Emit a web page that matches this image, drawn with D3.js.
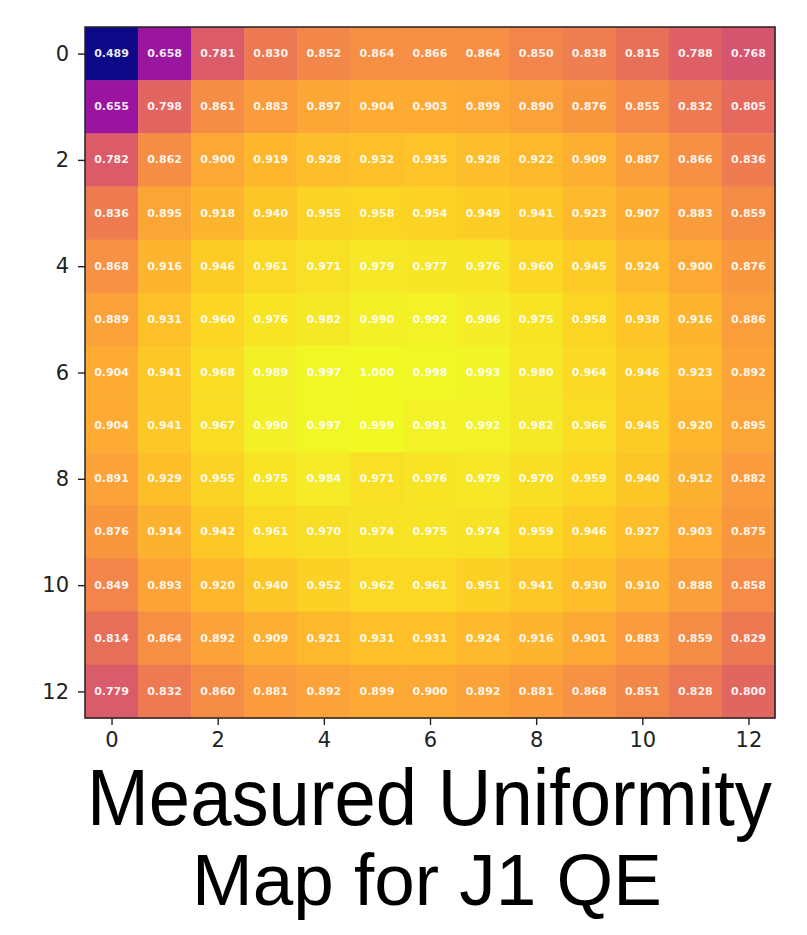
<!DOCTYPE html>
<html>
<head>
<meta charset="utf-8">
<script src="https://cdn.jsdelivr.net/npm/d3@7"></script>
<style>
  html, body { margin: 0; padding: 0; background: #fff; }
  svg { display: block; }
</style>
</head>
<body>
<svg id="chart" width="807" height="935"></svg>
<script>
// Normalised QE uniformity, 13 x 13 grid (rows top to bottom)
const rows = d3.range(13);
const cols = d3.range(13);
const tickValues = [0, 2, 4, 6, 8, 10, 12];
const titleLines = ["Measured Uniformity", "Map for J1 QE"];

const row0  = [0.489, 0.658, 0.781, 0.830, 0.852, 0.864, 0.866, 0.864, 0.850, 0.838, 0.815, 0.788, 0.768];
const row1  = [0.655, 0.798, 0.861, 0.883, 0.897, 0.904, 0.903, 0.899, 0.890, 0.876, 0.855, 0.832, 0.805];
const row2  = [0.782, 0.862, 0.900, 0.919, 0.928, 0.932, 0.935, 0.928, 0.922, 0.909, 0.887, 0.866, 0.836];
const row3  = [0.836, 0.895, 0.918, 0.940, 0.955, 0.958, 0.954, 0.949, 0.941, 0.923, 0.907, 0.883, 0.859];
const row4  = [0.868, 0.916, 0.946, 0.961, 0.971, 0.979, 0.977, 0.976, 0.960, 0.945, 0.924, 0.900, 0.876];
const row5  = [0.889, 0.931, 0.960, 0.976, 0.982, 0.990, 0.992, 0.986, 0.975, 0.958, 0.938, 0.916, 0.886];
const row6  = [0.904, 0.941, 0.968, 0.989, 0.997, 1.000, 0.998, 0.993, 0.980, 0.964, 0.946, 0.923, 0.892];
const row7  = [0.904, 0.941, 0.967, 0.990, 0.997, 0.999, 0.991, 0.992, 0.982, 0.966, 0.945, 0.920, 0.895];
const row8  = [0.891, 0.929, 0.955, 0.975, 0.984, 0.971, 0.976, 0.979, 0.970, 0.959, 0.940, 0.912, 0.882];
const row9  = [0.876, 0.914, 0.942, 0.961, 0.970, 0.974, 0.975, 0.974, 0.959, 0.946, 0.927, 0.903, 0.875];
const row10 = [0.849, 0.893, 0.920, 0.940, 0.952, 0.962, 0.961, 0.951, 0.941, 0.930, 0.910, 0.888, 0.858];
const row11 = [0.814, 0.864, 0.892, 0.909, 0.921, 0.931, 0.931, 0.924, 0.916, 0.901, 0.883, 0.859, 0.829];
const row12 = [0.779, 0.832, 0.860, 0.881, 0.892, 0.899, 0.900, 0.892, 0.881, 0.868, 0.851, 0.828, 0.800];

const grid = [row0, row1, row2, row3, row4, row5, row6, row7, row8, row9, row10, row11, row12];

const cells = [];
grid.forEach((r, i) => r.forEach((v, j) => cells.push({ row: i, col: j, value: v })));

// Layout
const plot = { left: 85, top: 27, width: 690, height: 691 };

const svg = d3.select("#chart");

const x = d3.scaleBand().domain(cols).range([plot.left, plot.left + plot.width]);
const y = d3.scaleBand().domain(rows).range([plot.top, plot.top + plot.height]);

const allValues = grid.flat();
const color = d3.scaleSequential(d3.interpolatePlasma)
  .domain([d3.min(allValues), d3.max(allValues)]);

// Heatmap cells
svg.append("g")
  .selectAll("rect")
  .data(cells)
  .join("rect")
  .attr("x", d => x(d.col))
  .attr("y", d => y(d.row))
  .attr("width", x.bandwidth() + 0.5)
  .attr("height", y.bandwidth() + 0.5)
  .attr("fill", d => color(d.value));

// Cell annotations
svg.append("g")
  .selectAll("text")
  .data(cells)
  .join("text")
  .attr("x", d => x(d.col) + x.bandwidth() / 2)
  .attr("y", d => y(d.row) + y.bandwidth() / 2)
  .attr("text-anchor", "middle")
  .attr("dominant-baseline", "central")
  .attr("font-family", "'DejaVu Sans', sans-serif")
  .attr("font-weight", "bold")
  .attr("font-size", 11)
  .attr("fill", "#fff")
  .attr("fill-opacity", 0.92)
  .text(d => d.value.toFixed(3));

// Axes: integer ticks at cell centres
const xTick = v => x(v) + x.bandwidth() / 2;
const yTick = v => y(v) + y.bandwidth() / 2;

const xAxis = d3.axisBottom(d3.scaleLinear().domain([0, 12]).range([xTick(0), xTick(12)]))
  .tickValues(tickValues).tickSize(7).tickPadding(7).tickFormat(d3.format("d"));
const yAxis = d3.axisLeft(d3.scaleLinear().domain([0, 12]).range([yTick(0), yTick(12)]))
  .tickValues(tickValues).tickSize(7).tickPadding(9).tickFormat(d3.format("d"));

const gx = svg.append("g")
  .attr("transform", `translate(0,${plot.top + plot.height})`)
  .call(xAxis);
const gy = svg.append("g")
  .attr("transform", `translate(${plot.left},0)`)
  .call(yAxis);

[gx, gy].forEach(g => {
  g.select(".domain").remove();
  g.selectAll(".tick line").attr("stroke", "#222").attr("stroke-width", 1.4);
  g.selectAll(".tick text")
    .attr("font-family", "'DejaVu Sans', sans-serif")
    .attr("font-size", 21)
    .attr("fill", "#222");
});

// Frame around the map
svg.append("rect")
  .attr("x", plot.left)
  .attr("y", plot.top)
  .attr("width", plot.width)
  .attr("height", plot.height)
  .attr("fill", "none")
  .attr("stroke", "#222")
  .attr("stroke-width", 1.5);

// Title below the map: first line is set tall and narrowed to its box
const titleSpec = [
  { size: 80, baseline: 825, left: 87, width: 685 },
  { size: 73, baseline: 905, left: 192, width: 470 }
];

const titles = svg.append("g")
  .selectAll("text")
  .data(titleLines)
  .join("text")
  .attr("font-family", "'Liberation Sans', Arial, sans-serif")
  .attr("font-size", (d, i) => titleSpec[i].size)
  .attr("fill", "#000")
  .text(d => d);

titles.each(function(d, i) {
  const s = titleSpec[i];
  const bb = this.getBBox();
  const k = s.width / bb.width;
  d3.select(this)
    .attr("x", 0)
    .attr("y", 0)
    .attr("transform", `translate(${s.left - bb.x * k},${s.baseline}) scale(${k},1)`);
});
</script>
</body>
</html>
